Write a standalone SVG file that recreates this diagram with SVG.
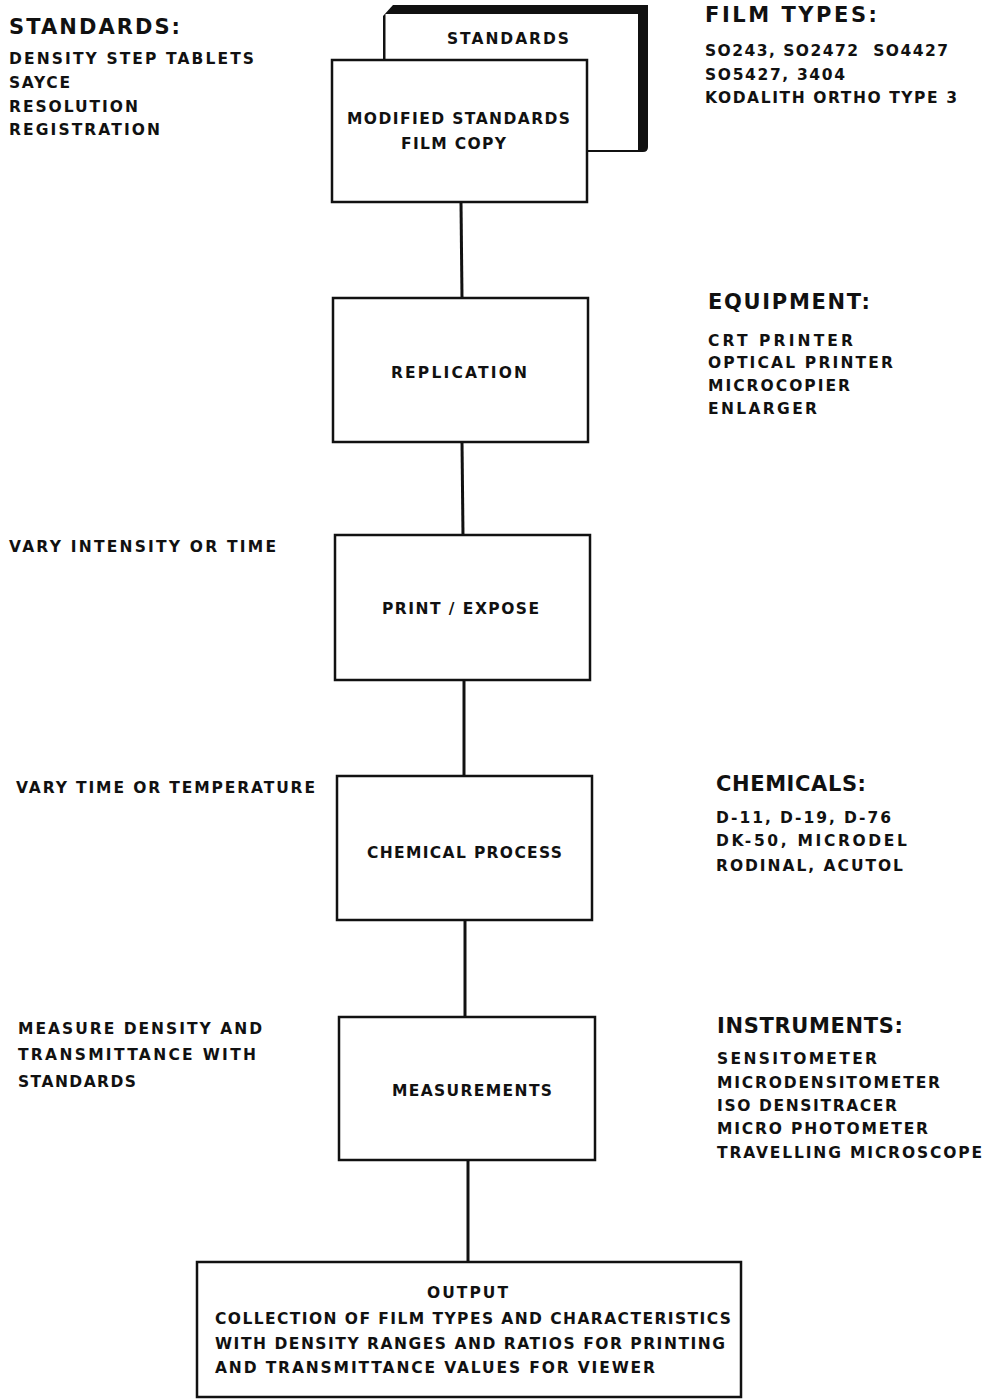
<svg xmlns="http://www.w3.org/2000/svg" width="989" height="1399" viewBox="0 0 989 1399">
<style>
  .box { fill: #ffffff; stroke: #111111; stroke-width: 2.5; }
  .conn { stroke: #111111; stroke-width: 3; fill: none; }
  text { font-family: "DejaVu Sans", "Liberation Sans", Arial, sans-serif; font-weight: bold; fill: #111111; }
  .h { font-size: 21px; }
  .t { font-size: 15.5px; }
</style>
<rect x="0" y="0" width="989" height="1399" fill="#ffffff"/>

<g id="connectors">
  <line class="conn" x1="461" y1="202" x2="462" y2="298"/>
  <line class="conn" x1="462" y1="442" x2="463" y2="535"/>
  <line class="conn" x1="464" y1="680" x2="464" y2="776"/>
  <line class="conn" x1="465" y1="920" x2="465" y2="1017"/>
  <line class="conn" x1="468" y1="1160" x2="468" y2="1262"/>
</g>

<g id="standards-back">
  <path d="M383,152 L383,16 L393,5 L648,5 L648,147 Q648,152 643,152 Z" fill="#111111"/>
  <rect x="385.5" y="14" width="252.5" height="136" fill="#ffffff"/>
  <text class="t" x="447" y="44" textLength="122" lengthAdjust="spacing">STANDARDS</text>
</g>

<g id="modified-standards">
  <rect class="box" x="332" y="60" width="255" height="142"/>
  <text class="t" x="347" y="124" textLength="223" lengthAdjust="spacing">MODIFIED STANDARDS</text>
  <text class="t" x="401" y="149" textLength="105" lengthAdjust="spacing">FILM COPY</text>
</g>

<g id="replication">
  <rect class="box" x="333" y="298" width="255" height="144"/>
  <text class="t" x="391" y="378" textLength="136" lengthAdjust="spacing">REPLICATION</text>
</g>

<g id="print-expose">
  <rect class="box" x="335" y="535" width="255" height="145"/>
  <text class="t" x="382" y="614" textLength="157" lengthAdjust="spacing">PRINT / EXPOSE</text>
</g>

<g id="chemical-process">
  <rect class="box" x="337" y="776" width="255" height="144"/>
  <text class="t" x="367" y="858" textLength="195" lengthAdjust="spacing">CHEMICAL PROCESS</text>
</g>

<g id="measurements">
  <rect class="box" x="339" y="1017" width="256" height="143"/>
  <text class="t" x="392" y="1096" textLength="160" lengthAdjust="spacing">MEASUREMENTS</text>
</g>

<g id="output">
  <rect class="box" x="197" y="1262" width="544" height="135"/>
  <text class="t" x="427" y="1298" textLength="81" lengthAdjust="spacing">OUTPUT</text>
  <text class="t" x="215" y="1324" textLength="516" lengthAdjust="spacing">COLLECTION OF FILM TYPES AND CHARACTERISTICS</text>
  <text class="t" x="215" y="1349" textLength="510" lengthAdjust="spacing">WITH DENSITY RANGES AND RATIOS FOR PRINTING</text>
  <text class="t" x="215" y="1373" textLength="440" lengthAdjust="spacing">AND TRANSMITTANCE VALUES FOR VIEWER</text>
</g>

<g id="standards-list">
  <text class="h" x="9" y="34" textLength="171" lengthAdjust="spacing">STANDARDS:</text>
  <text class="t" x="9" y="64" textLength="245" lengthAdjust="spacing">DENSITY STEP TABLETS</text>
  <text class="t" x="9" y="88" textLength="61" lengthAdjust="spacing">SAYCE</text>
  <text class="t" x="9" y="112" textLength="129" lengthAdjust="spacing">RESOLUTION</text>
  <text class="t" x="9" y="135" textLength="151" lengthAdjust="spacing">REGISTRATION</text>
</g>

<g id="film-types">
  <text class="h" x="705" y="22" textLength="172" lengthAdjust="spacing">FILM TYPES:</text>
  <text class="t" x="705" y="56" textLength="243" lengthAdjust="spacing" xml:space="preserve">SO243, SO2472  SO4427</text>
  <text class="t" x="705" y="80" textLength="140" lengthAdjust="spacing">SO5427, 3404</text>
  <text class="t" x="705" y="103" textLength="252" lengthAdjust="spacing">KODALITH ORTHO TYPE 3</text>
</g>

<g id="equipment">
  <text class="h" x="708" y="309" textLength="162" lengthAdjust="spacing">EQUIPMENT:</text>
  <text class="t" x="708" y="346" textLength="145" lengthAdjust="spacing">CRT PRINTER</text>
  <text class="t" x="708" y="368" textLength="185" lengthAdjust="spacing">OPTICAL PRINTER</text>
  <text class="t" x="708" y="391" textLength="142" lengthAdjust="spacing">MICROCOPIER</text>
  <text class="t" x="708" y="414" textLength="109" lengthAdjust="spacing">ENLARGER</text>
</g>

<g id="vary-intensity">
  <text class="t" x="9" y="552" textLength="267" lengthAdjust="spacing">VARY INTENSITY OR TIME</text>
</g>

<g id="vary-time">
  <text class="t" x="16" y="793" textLength="299" lengthAdjust="spacing">VARY TIME OR TEMPERATURE</text>
</g>

<g id="chemicals">
  <text class="h" x="716" y="791" textLength="150" lengthAdjust="spacing">CHEMICALS:</text>
  <text class="t" x="716" y="823" textLength="175" lengthAdjust="spacing">D-11, D-19, D-76</text>
  <text class="t" x="716" y="846" textLength="191" lengthAdjust="spacing">DK-50, MICRODEL</text>
  <text class="t" x="716" y="871" textLength="187" lengthAdjust="spacing">RODINAL, ACUTOL</text>
</g>

<g id="measure-density">
  <text class="t" x="18" y="1034" textLength="244" lengthAdjust="spacing">MEASURE DENSITY AND</text>
  <text class="t" x="18" y="1060" textLength="238" lengthAdjust="spacing">TRANSMITTANCE WITH</text>
  <text class="t" x="18" y="1087" textLength="118" lengthAdjust="spacing">STANDARDS</text>
</g>

<g id="instruments">
  <text class="h" x="717" y="1033" textLength="186" lengthAdjust="spacing">INSTRUMENTS:</text>
  <text class="t" x="717" y="1064" textLength="160" lengthAdjust="spacing">SENSITOMETER</text>
  <text class="t" x="717" y="1088" textLength="223" lengthAdjust="spacing">MICRODENSITOMETER</text>
  <text class="t" x="717" y="1111" textLength="180" lengthAdjust="spacing">ISO DENSITRACER</text>
  <text class="t" x="717" y="1134" textLength="211" lengthAdjust="spacing">MICRO PHOTOMETER</text>
  <text class="t" x="717" y="1158" textLength="265" lengthAdjust="spacing">TRAVELLING MICROSCOPE</text>
</g>
</svg>
